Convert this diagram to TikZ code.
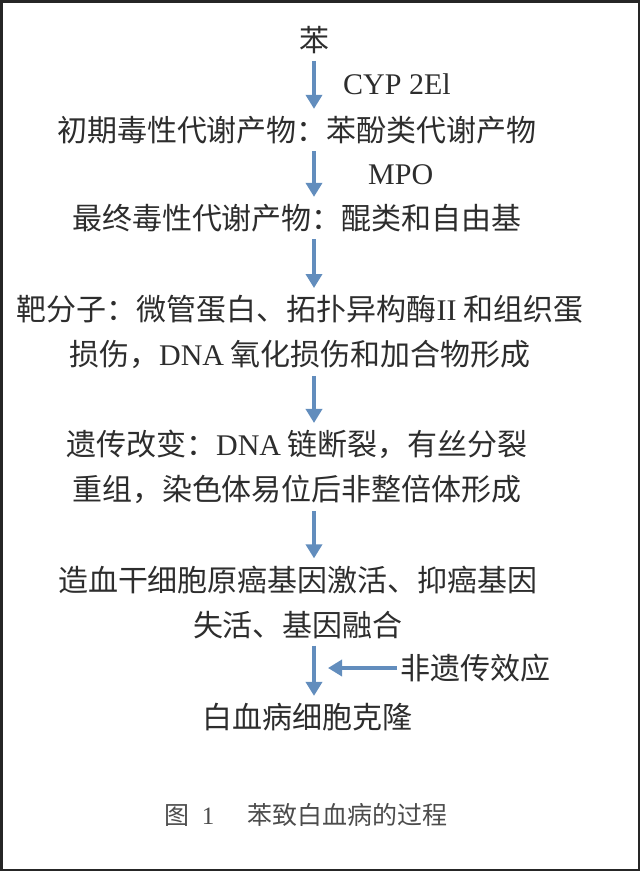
\documentclass[tikz,border=0pt]{standalone}
\usepackage{fontspec}
\setmainfont{Liberation Serif}
\newfontfamily\cjk{Noto Sans CJK SC}
\usetikzlibrary{arrows.meta}
\definecolor{flowblue}{RGB}{98,141,189}
\definecolor{inkgray}{RGB}{45,45,45}
\newcommand{\lat}[1]{{\rmfamily #1}}

\begin{document}
\begin{tikzpicture}[x=1pt,y=-1pt,
    stage/.style ={font=\cjk\fontsize{30}{45}\selectfont, text=inkgray, inner sep=0pt, align=center},
    enzyme/.style={font=\fontsize{30}{36}\selectfont, text=inkgray, inner sep=0pt, anchor=west},
    caption/.style={font=\cjk\fontsize{25}{30}\selectfont, text=inkgray!85, inner sep=0pt},
    flow/.style={draw=flowblue, line width=3.5pt, -{Triangle[width=16pt,length=14pt]},
      shorten <=7pt, shorten >=7pt}]
   \useasboundingbox (0,0) rectangle (640,871);
   \draw[line width=2.5pt, draw=black!85] (1.25,1.25) rectangle (638.75,869.75);

   \node[stage]  (ben)     at (314,40)  {苯};
   \node[enzyme] (cyp)     at (343,84)  {CYP 2El};
   \node[stage]  (early)   at (297,130) {初期毒性代谢产物：苯酚类代谢产物};
   \node[enzyme] (mpo)     at (368,175) {MPO};
   \node[stage]  (final)   at (297,218) {最终毒性代谢产物：醌类和自由基};
   \node[stage]  (target)  at (300,332) {靶分子：微管蛋白、拓扑异构酶\lat{II} 和组织蛋\\损伤，\lat{DNA} 氧化损伤和加合物形成};
   \node[stage]  (genetic) at (297,467) {遗传改变：\lat{DNA} 链断裂，有丝分裂\\重组，染色体易位后非整倍体形成};
   \node[stage]  (onco)    at (298,602) {造血干细胞原癌基因激活、抑癌基因\\失活、基因融合};
   \node[stage, anchor=west] (nongen) at (400,668) {非遗传效应};
   \node[stage]  (clone)   at (307,717) {白血病细胞克隆};
   \node[caption] (cap)    at (306,815) {图\hspace{12pt}\lat{1}\hspace{33pt}苯致白血病的过程};

   \draw[flow] (ben) to (ben |- early.north);
   \draw[flow] (ben |- early.south) to (ben |- final.north);
   \draw[flow] (ben |- final.south) to (ben |- target.north);
   \draw[flow] (ben |- target.south) to (ben |- genetic.north);
   \draw[flow] (ben |- genetic.south) to (ben |- onco.north);
   \draw[flow] (ben |- onco.south) to (ben |- clone.north);
   \draw[flow, shorten <=3pt, shorten >=14pt] (nongen.west) to (ben |- nongen.west);
 \end{tikzpicture}
\end{document}
